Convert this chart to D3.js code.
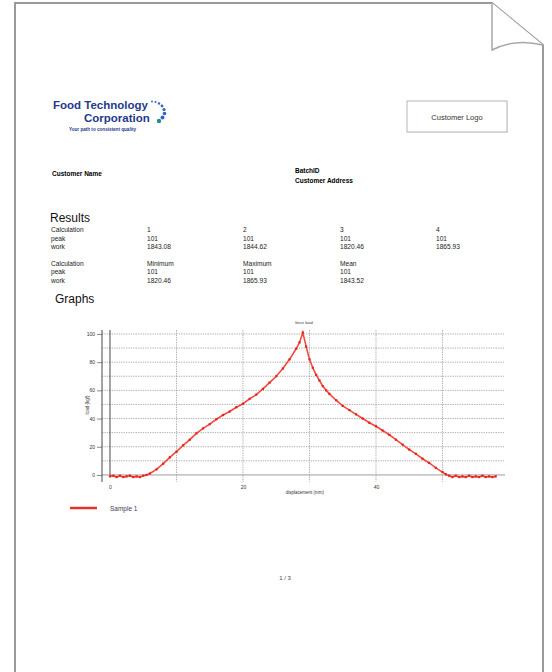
<!DOCTYPE html>
<html>
<head>
<meta charset="utf-8">
<script src="https://cdn.jsdelivr.net/npm/d3@7"></script>
<style>
  body { margin: 0; background: #fff; }
  text { font-family: "Liberation Sans", Arial, sans-serif; }
</style>
</head>
<body>
<div id="chart"></div>
<script>
// results table
const calcCols = ['1', '2', '3', '4'];
const peakVals = ['101', '101', '101', '101'];
const workVals = ['1843.08', '1844.62', '1820.46', '1865.93'];
const statCols = ['Minimum', 'Maximum', 'Mean'];
const statPeak = ['101', '101', '101'];
const statWork = ['1820.46', '1865.93', '1843.52'];

// graph data (displacement mm, load)
const displacement = [0, 0.5, 1, 1.5, 2, 2.5, 3, 3.5, 4, 4.5, 5, 5.5, 6, 7, 8, 9, 10, 11, 12, 13, 14, 15, 16, 17, 18, 19, 20,
    21, 22, 23, 24, 25, 26, 27, 28, 28.5, 29, 29.5, 30, 30.5, 31, 31.5, 32, 32.5, 33, 34, 35, 36, 37, 38, 39, 40,
    41, 42, 43, 44, 45, 46, 47, 48, 49, 50, 50.5, 51, 51.5, 52, 52.5, 53, 53.5, 54, 54.5, 55, 55.5, 56, 56.5, 57, 57.5, 58];
const load = [-1, -0.5, -1.5, -0.5, -1.5, -1, -0.5, -1.5, -1, -1.5, -0.5, 0, 1, 4, 8, 12.5, 16.5, 21, 25, 29.5, 33, 36, 39.5, 42.5, 45, 48, 50.5,
    54, 57, 61, 65.5, 70, 75.5, 82, 89.5, 94, 101, 91, 82, 76, 71, 67, 63, 60, 57.5, 53, 49, 46, 43, 40, 37, 34.5,
    31.5, 28.5, 25, 21.5, 18, 15, 11.5, 8.5, 5, 2, 0.5, -0.5, -1.5, -0.5, -1.5, -1, -1.5, -0.5, -1.5, -1, -1.5, -0.5, -1.5, -1, -1.5, -1];
const yTicks = [0, 20, 40, 60, 80, 100];
const xTicks = [0, 20, 40];
const seriesName = 'Sample 1';

const width = 552;
const height = 672;

const svg = d3.select('#chart')
    .append('svg')
    .attr('width', width)
    .attr('height', height);

// page outline with folded corner
svg.append('path')
    .attr('d', 'M15,672 L15,3 L492,3 L543,45 L543,672')
    .attr('fill', 'none')
    .attr('stroke', '#9a9a9a')
    .attr('stroke-width', 2);
svg.append('path')
    .attr('d', 'M492,3 L492,50 Q515,38 543,45')
    .attr('fill', '#fff')
    .attr('stroke', '#a8a8a8')
    .attr('stroke-width', 1.5);

// logo
const blue = '#24398c';
svg.append('text').attr('x', 53).attr('y', 109)
    .attr('font-size', 11.5).attr('font-weight', 'bold').attr('fill', blue)
    .text('Food Technology');
svg.append('text').attr('x', 84).attr('y', 122)
    .attr('font-size', 11.5).attr('font-weight', 'bold').attr('fill', blue)
    .text('Corporation');
svg.append('text').attr('x', 69).attr('y', 131)
    .attr('font-size', 4.6).attr('font-weight', 'bold').attr('fill', blue)
    .text('Your path to consistent quality');
const dots = [[152, 101.5, 0.9], [155.5, 102, 1], [159, 103.5, 1.2], [162, 106, 1.4], [164, 109.5, 1.6], [164.5, 113.5, 1.8], [162.5, 117.5, 2], [159, 121, 2.2]];
svg.append('g').selectAll('circle')
    .data(dots)
    .enter()
    .append('circle')
    .attr('cx', d => d[0])
    .attr('cy', d => d[1])
    .attr('r', d => d[2])
    .attr('fill', (d, i) => i === dots.length - 1 ? '#1f8f86' : '#2e63c8');

// customer logo box
svg.append('rect').attr('x', 408).attr('y', 102).attr('width', 100).attr('height', 31)
    .attr('fill', '#eee');
svg.append('rect').attr('x', 407).attr('y', 101).attr('width', 100).attr('height', 31)
    .attr('fill', '#fff').attr('stroke', '#b5b5b5').attr('stroke-width', 1);
svg.append('text').attr('x', 457).attr('y', 119.5).attr('text-anchor', 'middle')
    .attr('font-size', 7.5).attr('fill', '#333').text('Customer Logo');

// header fields
svg.append('text').attr('x', 52).attr('y', 176).attr('font-size', 6.5).attr('font-weight', 'bold').text('Customer Name');
svg.append('text').attr('x', 295).attr('y', 173).attr('font-size', 6.5).attr('font-weight', 'bold').text('BatchID');
svg.append('text').attr('x', 295).attr('y', 183).attr('font-size', 6.5).attr('font-weight', 'bold').text('Customer Address');

// results
svg.append('text').attr('x', 50).attr('y', 222).attr('font-size', 12).attr('fill', '#111').text('Results');
const colX = [147, 243, 340, 436];
const rowText = (rows, y0) => {
    rows.forEach((r, ri) => {
        svg.append('text').attr('x', 51).attr('y', y0 + ri * 8.7)
            .attr('font-size', 6.6).attr('fill', '#222').text(r[0]);
        r[1].forEach((v, ci) => {
            svg.append('text').attr('x', colX[ci]).attr('y', y0 + ri * 8.7)
                .attr('font-size', 6.6).attr('fill', '#222').text(v);
        });
    });
};
rowText([['Calculation', calcCols], ['peak', peakVals], ['work', workVals]], 232);
rowText([['Calculation', statCols], ['peak', statPeak], ['work', statWork]], 265.5);

svg.append('text').attr('x', 55).attr('y', 303).attr('font-size', 12).attr('fill', '#111').text('Graphs');

// graph
const plotL = 102, plotR = 505, plotT = 330, plotB = 482;
const xScale = d3.scaleLinear().domain([-1.2, 59.4]).range([plotL, plotR]);
const yScale = d3.scaleLinear().domain([-5, 102.8]).range([plotB, plotT]);

const grid = svg.append('g');
grid.selectAll('.hgrid')
    .data(d3.range(10, 101, 10))
    .enter()
    .append('line')
    .attr('x1', plotL).attr('x2', plotR)
    .attr('y1', d => yScale(d)).attr('y2', d => yScale(d))
    .attr('stroke', '#8a8a8a').attr('stroke-width', 0.7)
    .attr('stroke-dasharray', '1.3,1.1');
grid.selectAll('.vgrid')
    .data([10, 20, 30, 40, 50])
    .enter()
    .append('line')
    .attr('x1', d => xScale(d)).attr('x2', d => xScale(d))
    .attr('y1', plotT).attr('y2', plotB)
    .attr('stroke', '#8a8a8a').attr('stroke-width', 0.7)
    .attr('stroke-dasharray', '1.3,1.1');
// zero lines
grid.append('line')
    .attr('x1', plotL).attr('x2', plotR)
    .attr('y1', yScale(0)).attr('y2', yScale(0))
    .attr('stroke', '#9d9d9d').attr('stroke-width', 1);
grid.append('line')
    .attr('x1', xScale(0)).attr('x2', xScale(0))
    .attr('y1', plotT).attr('y2', yScale(0))
    .attr('stroke', '#333').attr('stroke-width', 0.9);

const yAxis = d3.axisLeft(yScale).tickValues(yTicks).tickSize(5).tickPadding(2);
const gy = svg.append('g')
    .attr('class', 'y-axis')
    .attr('transform', 'translate(' + plotL + ',0)')
    .call(yAxis);
gy.select('.domain').attr('d', 'M0,' + plotT + 'V' + plotB).attr('stroke', '#333').attr('stroke-width', 0.9);
gy.selectAll('.tick line').attr('stroke', '#555').attr('stroke-width', 0.7);
gy.selectAll('.tick text').attr('font-size', 5).attr('fill', '#333')
    .attr('font-family', '"Liberation Sans", Arial, sans-serif');

const xAxis = d3.axisBottom(xScale).tickValues(xTicks).tickSize(0).tickPadding(3);
const gx = svg.append('g')
    .attr('class', 'x-axis')
    .attr('transform', 'translate(0,' + plotB + ')')
    .call(xAxis);
gx.select('.domain').remove();
gx.selectAll('.tick text').attr('font-size', 5).attr('fill', '#333')
    .attr('font-family', '"Liberation Sans", Arial, sans-serif');

svg.append('text').attr('x', 305).attr('y', 494).attr('text-anchor', 'middle')
    .attr('font-size', 4.5).attr('fill', '#333').text('displacement (mm)');
svg.append('text').attr('transform', 'translate(89,405) rotate(-90)').attr('text-anchor', 'middle')
    .attr('font-size', 4.5).attr('fill', '#333').text('load (kgf)');
svg.append('text').attr('x', 304).attr('y', 323.5).attr('text-anchor', 'middle')
    .attr('font-size', 4).attr('fill', '#333').text('force load');

const points = displacement.map((d, i) => [d, load[i]]);
const line = d3.line()
    .x(d => xScale(d[0]))
    .y(d => yScale(d[1]));
svg.append('path')
    .datum(points)
    .attr('d', line)
    .attr('fill', 'none')
    .attr('stroke', '#f24a40')
    .attr('stroke-width', 1.6)
    .attr('stroke-linejoin', 'miter');
svg.append('g').selectAll('rect')
    .data(points)
    .enter()
    .append('rect')
    .attr('x', d => xScale(d[0]) - 1.1)
    .attr('y', d => yScale(d[1]) - 1.1)
    .attr('width', 2.2)
    .attr('height', 2.2)
    .attr('fill', '#e8241f');

// legend
svg.append('line').attr('x1', 70).attr('x2', 97).attr('y1', 508).attr('y2', 508)
    .attr('stroke', '#e8302a').attr('stroke-width', 2.5);
svg.append('text').attr('x', 110).attr('y', 510.5).attr('font-size', 6.5).attr('fill', '#443a55').text(seriesName);

// page number
svg.append('text').attr('x', 285).attr('y', 580).attr('text-anchor', 'middle')
    .attr('font-size', 6).attr('fill', '#444').text('1 / 3');
</script>
</body>
</html>
